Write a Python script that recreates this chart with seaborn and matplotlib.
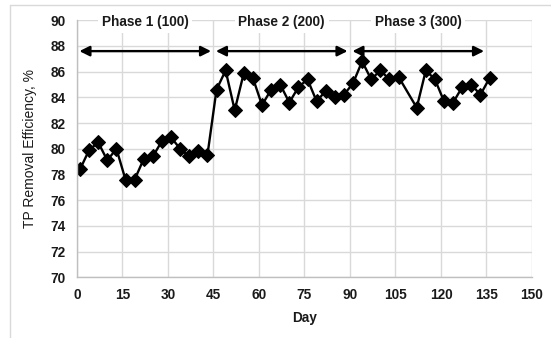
import matplotlib
matplotlib.use("Agg")
import matplotlib.pyplot as plt
import seaborn as sns
import pandas as pd

# Sampling days and TP removal efficiency (%)
days = [1, 4, 7, 10, 13, 16, 19, 22, 25, 28, 31, 34, 37, 40, 43,
        46, 49, 52, 55, 58, 61, 64, 67, 70, 73, 76, 79, 82, 85, 88,
        91, 94, 97, 100, 103, 106, 112, 115, 118, 121, 124, 127, 130, 133, 136]
efficiency = [78.4, 79.9, 80.5, 79.1, 80.0, 77.6, 77.6, 79.2, 79.4, 80.6, 80.9, 80.0, 79.4, 79.8, 79.5,
              84.6, 86.1, 83.0, 85.9, 85.5, 83.4, 84.6, 85.0, 83.6, 84.8, 85.4, 83.7, 84.5, 84.0, 84.2,
              85.1, 86.8, 85.4, 86.1, 85.4, 85.6, 83.2, 86.1, 85.4, 83.7, 83.6, 84.8, 85.0, 84.2, 85.5]

# Operating phases: label, start day, end day
phase_labels = ["Phase 1 (100)", "Phase 2 (200)", "Phase 3 (300)"]
phase_starts = [0, 45, 90]
phase_ends = [45, 90, 135]

x_ticks = [0, 15, 30, 45, 60, 75, 90, 105, 120, 135, 150]
y_ticks = [70, 72, 74, 76, 78, 80, 82, 84, 86, 88, 90]

df = pd.DataFrame({"Day": days, "Efficiency": efficiency})

sns.set_theme(style="whitegrid")
plt.rcParams["font.family"] = ["Liberation Sans", "DejaVu Sans"]

fig = plt.figure(figsize=(5.51, 3.38), dpi=100)
ax = fig.add_axes([0.1397, 0.1796, 0.8258, 0.7604])

sns.lineplot(data=df, x="Day", y="Efficiency", ax=ax, color="black",
             linewidth=1.7, marker="D", markersize=7,
             markeredgecolor="black", markerfacecolor="black")

ax.set_xlim(0, 150)
ax.set_ylim(70, 90)
ax.set_xticks(x_ticks)
ax.set_yticks(y_ticks)
ax.grid(True, color="#d9d9d9", linewidth=1.0)
ax.set_axisbelow(True)
for side in ["top", "right"]:
    ax.spines[side].set_visible(False)
for side in ["left", "bottom"]:
    ax.spines[side].set_color("#bfbfbf")
    ax.spines[side].set_linewidth(1.0)

ax.tick_params(axis="both", length=0, pad=8, labelsize=9.8, colors="#1a1a1a")
for lab in ax.get_xticklabels() + ax.get_yticklabels():
    lab.set_fontweight("bold")

ax.set_xlabel("Day", fontsize=9.8, fontweight="bold", color="#1a1a1a", labelpad=6)
ax.set_ylabel("TP Removal Efficiency, %", fontsize=10, color="#1a1a1a", labelpad=10)

# Phase arrows and labels
for label, start, end in zip(phase_labels, phase_starts, phase_ends):
    ax.annotate("", xy=(start + 0.8, 87.6), xytext=(end - 0.8, 87.6),
                arrowprops=dict(arrowstyle="<|-|>", color="black", lw=1.7,
                                mutation_scale=15, shrinkA=0, shrinkB=0))
    ax.text((start + end) / 2, 89.85, label, ha="center", va="center",
            fontsize=9.8, fontweight="bold", color="#1a1a1a",
            bbox=dict(facecolor="white", edgecolor="none", pad=2.5))

# Chart-area border lines along the top and left of the figure
fig.add_artist(plt.Line2D([10 / 551, 1], [1 - 5 / 338, 1 - 5 / 338],
                          transform=fig.transFigure, color="#d9d9d9", lw=1))
fig.add_artist(plt.Line2D([10 / 551, 10 / 551], [0, 1 - 5 / 338],
                          transform=fig.transFigure, color="#d9d9d9", lw=1))

fig.savefig("out.png", dpi=100)
